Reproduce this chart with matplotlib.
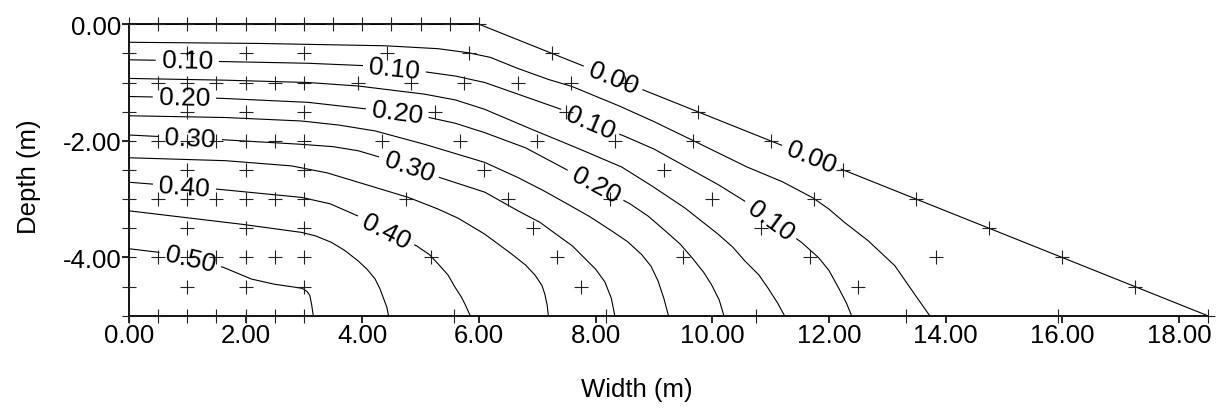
import matplotlib
matplotlib.use("Agg")
import matplotlib.pyplot as plt
from matplotlib.contour import ContourSet
import numpy as np

plt.rcParams['font.family'] = ['Liberation Sans', 'DejaVu Sans']
plt.rcParams['axes.unicode_minus'] = False

# embankment section
crest_width = 6.0
toe_x = 18.5
dam_height = 5.0

# finite element nodes, one row per depth (m)
node_depths = [0.0, 0.5, 1.0, 1.5, 2.0, 2.5, 3.0, 3.5, 4.0, 4.5, 5.0]
node_rows = [
    [0, 0.5, 1, 1.5, 2, 2.5, 3, 3.5, 4, 4.5, 5, 5.5, 6],
    [0, 1, 2, 3, 4.42, 5.83, 7.25],
    [0, 0.5, 1, 1.5, 2, 2.5, 3, 3.92, 4.83, 5.75, 6.67, 7.58, 8.5],
    [0, 1, 2, 3, 5.25, 7.5, 9.75],
    [0, 0.5, 1, 1.5, 2, 2.5, 3, 4.33, 5.67, 7.0, 8.33, 9.67, 11.0],
    [0, 1, 2, 3, 6.08, 9.17, 12.25],
    [0, 0.5, 1, 1.5, 2, 2.5, 3, 4.75, 6.5, 8.25, 10.0, 11.75, 13.5],
    [0, 1, 2, 3, 6.92, 10.83, 14.75],
    [0, 0.5, 1, 1.5, 2, 2.5, 3, 5.17, 7.33, 9.5, 11.67, 13.83, 16.0],
    [0, 1, 2, 3, 7.75, 12.5, 17.25],
    [0, 0.5, 1, 1.5, 2, 2.5, 3, 5.58, 8.17, 10.75, 13.33, 15.92, 18.5],
]

# contour levels and their traced lines (x, y)
levels = [0.00, 0.05, 0.10, 0.15, 0.20, 0.25, 0.30, 0.35, 0.40, 0.45, 0.50]

line_000 = [(0, 0), (6.0, 0), (18.5, -5.0)]
line_005 = [(0, -0.31), (2.22, -0.33), (4.39, -0.37), (5.3, -0.42), (5.82, -0.49),
            (6.2, -0.57), (6.67, -0.76), (7.2, -0.95), (7.6, -1.07), (8.4, -1.4),
            (9.0, -1.67), (9.64, -1.98), (10.6, -2.45), (11.2, -2.7), (11.73, -2.98),
            (12.0, -3.17), (12.27, -3.4), (12.67, -3.71), (13.13, -4.14), (13.47, -4.63),
            (13.73, -5.0)]
line_010 = [(0, -0.61), (1.56, -0.64), (3.07, -0.67), (4.02, -0.71), (4.55, -0.76),
            (5.1, -0.82), (5.6, -0.89), (6.1, -1.0), (6.67, -1.2), (7.41, -1.46),
            (7.9, -1.69), (8.47, -1.91), (9.0, -2.14), (9.47, -2.4), (10.1, -2.75),
            (10.6, -3.06), (11.0, -3.36), (11.53, -3.74), (11.82, -4.0), (12.0, -4.22),
            (12.16, -4.51), (12.3, -4.78), (12.39, -5.0)]
line_015 = [(0, -0.93), (1.65, -0.96), (3.07, -1.0), (3.93, -1.06), (5.07, -1.2),
            (5.6, -1.3), (6.1, -1.46), (6.9, -1.8), (7.7, -2.13), (8.45, -2.45),
            (8.96, -2.77), (9.53, -3.15), (10.1, -3.6), (10.35, -3.82), (10.56, -4.06),
            (10.8, -4.3), (10.96, -4.53), (11.12, -4.78), (11.24, -5.0)]
line_020 = [(0, -1.24), (1.56, -1.27), (3.07, -1.34), (4.05, -1.45), (4.6, -1.52),
            (5.1, -1.59), (5.6, -1.7), (6.1, -1.86), (6.8, -2.12), (7.42, -2.45),
            (8.0, -2.76), (8.59, -3.08), (8.9, -3.29), (9.19, -3.54), (9.45, -3.77),
            (9.65, -4.0), (9.85, -4.25), (9.99, -4.47), (10.12, -4.73), (10.2, -5.0)]
line_025 = [(0, -1.57), (1.65, -1.6), (2.96, -1.66), (3.6, -1.73), (4.22, -1.83),
            (5.07, -2.06), (6.1, -2.37), (6.67, -2.63), (7.1, -2.85), (7.53, -3.09),
            (7.9, -3.3), (8.27, -3.54), (8.55, -3.73), (8.79, -3.95), (8.95, -4.15),
            (9.07, -4.4), (9.17, -4.7), (9.25, -5.0)]
line_030 = [(0, -1.9), (1.59, -1.98), (2.96, -2.06), (3.5, -2.1), (3.93, -2.17),
            (4.3, -2.28), (4.8, -2.45), (5.33, -2.63), (6.1, -2.88), (6.67, -3.2),
            (7.05, -3.4), (7.35, -3.62), (7.6, -3.8), (7.8, -4.0), (8.0, -4.2),
            (8.16, -4.42), (8.27, -4.7), (8.33, -5.0)]
line_035 = [(0, -2.29), (1.65, -2.34), (2.79, -2.43), (3.4, -2.55), (3.93, -2.71),
            (4.79, -2.97), (5.3, -3.17), (5.65, -3.33), (6.1, -3.6), (6.56, -3.94),
            (6.8, -4.13), (6.96, -4.3), (7.08, -4.48), (7.13, -4.63), (7.17, -4.82),
            (7.19, -5.0)]
line_040 = [(0, -2.71), (1.53, -2.83), (2.96, -2.97), (3.45, -3.08), (3.93, -3.29),
            (4.4, -3.55), (4.93, -3.8), (5.15, -3.95), (5.3, -4.11), (5.47, -4.3),
            (5.59, -4.51), (5.7, -4.68), (5.76, -4.8), (5.82, -4.93), (5.85, -5.0)]
line_045 = [(0, -3.2), (1.93, -3.43), (2.96, -3.57), (3.2, -3.63), (3.47, -3.74),
            (3.7, -3.88), (3.93, -4.06), (4.08, -4.2), (4.22, -4.37), (4.3, -4.53),
            (4.36, -4.69), (4.42, -4.85), (4.45, -5.0)]
line_050 = [(0, -3.85), (0.5, -3.91), (1.05, -4.03), (1.62, -4.17), (2.1, -4.37),
            (2.5, -4.46), (2.85, -4.51), (2.97, -4.53), (3.05, -4.58), (3.1, -4.65),
            (3.13, -4.8), (3.16, -5.0)]

contour_lines = [line_000, line_005, line_010, line_015, line_020, line_025,
                 line_030, line_035, line_040, line_045, line_050]

# where the level values are written along the lines (every 0.10)
label_spots = [(8.3, -0.92), (11.7, -2.28),
               (1.0, -0.63), (4.55, -0.76), (7.9, -1.69), (11.0, -3.36),
               (0.95, -1.28), (4.6, -1.52), (8.0, -2.76),
               (1.05, -2.0), (4.8, -2.45),
               (0.95, -2.8), (4.4, -3.55),
               (1.05, -4.03)]

x_ticks = [0, 2, 4, 6, 8, 10, 12, 14, 16, 18]
y_ticks = [0, -2, -4]

fig = plt.figure(figsize=(12.16, 4.10), dpi=100)
ax = fig.add_axes([129 / 1216, 93 / 410, 1079 / 1216, 292 / 410])

allsegs = [[np.array(seg)] for seg in contour_lines]
cs = ContourSet(ax, levels, allsegs, colors='black', linewidths=0.8)
ax.clabel(cs, manual=label_spots, inline=True,
          inline_spacing=6, fmt='%.2f', fontsize=19, colors='black')

for d, xs in zip(node_depths, node_rows):
    ax.plot(xs, [-d] * len(xs), ls='none', marker='+', ms=10, mew=0.8,
            color='#222222', clip_on=False, zorder=3)

ax.set_xlim(0, toe_x)
ax.set_ylim(-dam_height, 0)
ax.set_aspect('equal')

ax.spines['right'].set_visible(False)
ax.spines['top'].set_bounds(0, crest_width)
for s in ['left', 'bottom', 'top']:
    ax.spines[s].set_linewidth(1.3)

ax.set_xticks(x_ticks)
ax.set_yticks(y_ticks)
ax.xaxis.set_major_formatter(matplotlib.ticker.FormatStrFormatter('%.2f'))
ax.yaxis.set_major_formatter(matplotlib.ticker.FormatStrFormatter('%.2f'))
ax.tick_params(direction='out', length=5, width=1.2, labelsize=18.5)
ax.tick_params(axis='x', pad=0.5)
ax.tick_params(axis='y', pad=0.5)

ax.set_xlabel('Width (m)', fontsize=18.5)
ax.set_ylabel('Depth (m)', fontsize=18.5)
ax.xaxis.set_label_coords((637 - 129) / 1079, (317 - 378) / 292)
ax.yaxis.set_label_coords((41 - 129) / 1079, (317 - 177) / 292)

fig.savefig('out.png', dpi=100)
